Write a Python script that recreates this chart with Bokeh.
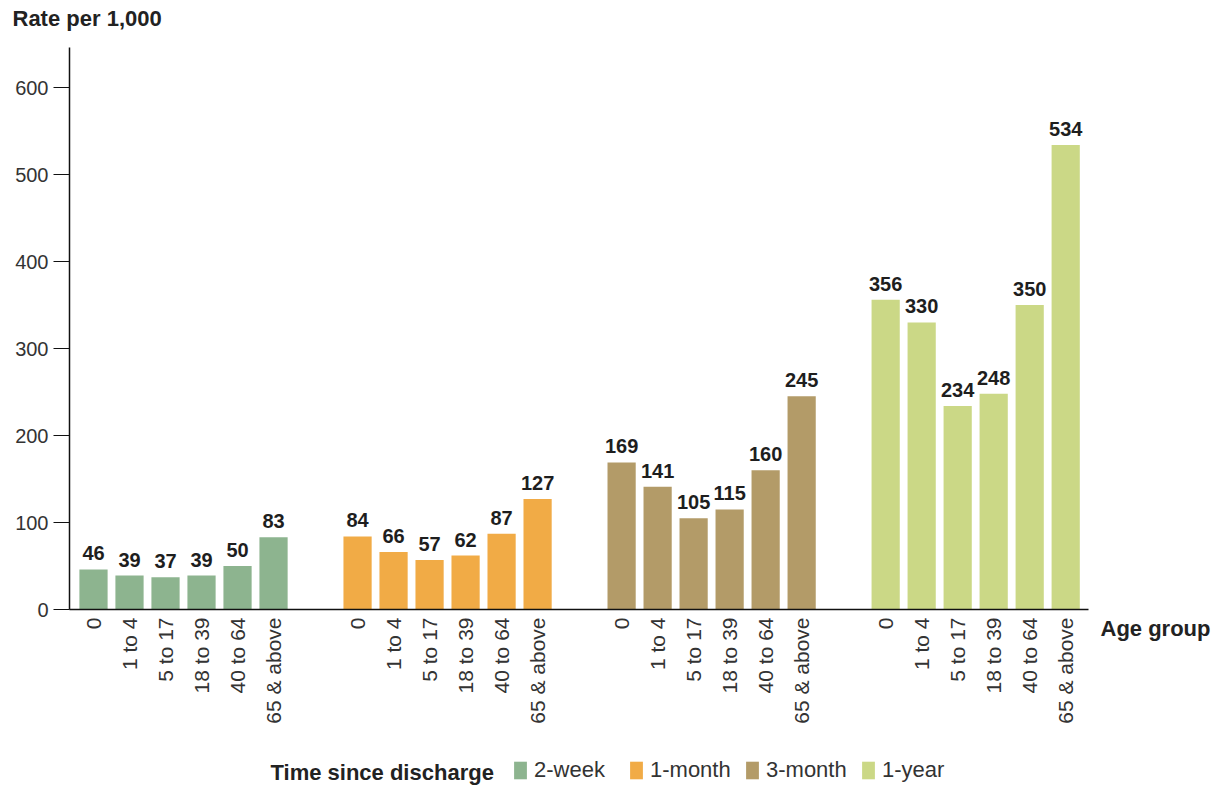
import math
from bokeh.plotting import figure
from bokeh.models import FixedTicker, Legend, LegendItem, ColumnDataSource, Label
from bokeh.core.properties import value
from bokeh.embed import file_html
from bokeh.resources import INLINE

ages = ["0", "1 to 4", "5 to 17", "18 to 39", "40 to 64", "65 & above"]
periods = ["2-week", "1-month", "3-month", "1-year"]
rates_2week = [46, 39, 37, 39, 50, 83]
rates_1month = [84, 66, 57, 62, 87, 127]
rates_3month = [169, 141, 105, 115, 160, 245]
rates_1year = [356, 330, 234, 248, 350, 534]
series = [rates_2week, rates_1month, rates_3month, rates_1year]
colors = ["#8db48f", "#f1ab46", "#b39b68", "#cbd886"]
y_ticks = [0, 100, 200, 300, 400, 500, 600]
y_title = "Rate per 1,000"
x_title = "Age group"
legend_title = "Time since discharge"

W, H = 1225, 790
# plot area (axes box) in pixels
L, R, T, B = 69, 1088, 47, 609
X0, X1 = -2.0, 82.9      # data extent of axes box
Y0, Y1 = 0.0, 646.0
sx = (R - L) / (X1 - X0)
sy = (B - T) / (Y1 - Y0)

SLOT = 3
GROUP = 22
BAR_W = 2.35
FONT = "Liberation Sans"

p = figure(width=W, height=H, output_backend="svg", toolbar_location=None,
           x_range=(X0 - L / sx, X1 + (W - R) / sx),
           y_range=(Y0 - (H - B) / sy, Y1 + T / sy),
           min_border=0)
p.outline_line_color = None
p.xgrid.visible = False
p.ygrid.visible = False

ticks = []
overrides = {}
renderers = []
for g, (vals, col) in enumerate(zip(series, colors)):
    xs = [g * GROUP + i * SLOT for i in range(len(ages))]
    ticks += xs
    for x, a in zip(xs, ages):
        overrides[x] = a
    src = ColumnDataSource(dict(x=xs, top=vals, lab=[str(v) for v in vals]))
    r = p.vbar(x="x", top="top", width=BAR_W, source=src, fill_color=col, line_color=None)
    renderers.append(r)
    p.text(x="x", y="top", text="lab", source=src, text_align="center", text_baseline="bottom",
           y_offset=-9, text_font=value(FONT), text_font_style="bold",
           text_font_size="20px", text_color="#1e1e1e")

# y axis
ya = p.yaxis[0]
ya.fixed_location = X0
ya.bounds = (Y0, Y1)
ya.ticker = FixedTicker(ticks=y_ticks)
ya.axis_line_color = "#111111"
ya.axis_line_width = 1.5
ya.major_tick_in = 0
ya.major_tick_out = 16
ya.major_tick_line_color = "#111111"
ya.minor_tick_line_color = None
ya.major_label_text_font = FONT
ya.major_label_text_font_size = "20px"
ya.major_label_text_color = "#333333"
ya.major_label_standoff = 5

# x axis
xa = p.xaxis[0]
xa.fixed_location = Y0
xa.bounds = (X0, X1)
xa.ticker = FixedTicker(ticks=ticks)
xa.major_label_overrides = overrides
xa.major_label_orientation = math.pi / 2
xa.axis_line_color = "#111111"
xa.axis_line_width = 1.5
xa.major_tick_in = 0
xa.major_tick_out = 0
xa.minor_tick_line_color = None
xa.major_label_text_font = FONT
xa.major_label_text_font_size = "21px"
xa.major_label_text_color = "#333333"
xa.major_label_standoff = 8

lab_style = dict(x_units="screen", y_units="screen", text_font=FONT, text_font_style="bold",
                 text_font_size="22px", text_color="#222222", text_baseline="middle")
p.add_layout(Label(x=12, y=H - 18, text=y_title, **lab_style))
p.add_layout(Label(x=1100, y=H - 628, text=x_title, **lab_style))
p.add_layout(Label(x=270, y=H - 772, text=legend_title, **lab_style))

legend = Legend(items=[LegendItem(label=lab, renderers=[r]) for lab, r in zip(periods, renderers)],
                orientation="horizontal", location=(512, H - 22 - 761),
                padding=0, spacing=0, margin=0,
                glyph_width=16, glyph_height=22, label_width=94, label_standoff=6, label_height=22,
                label_text_font=FONT, label_text_font_size="22px", label_text_color="#333333",
                label_text_baseline="middle",
                border_line_color=None, background_fill_alpha=0)
p.add_layout(legend, "center")

open("out.html", "w").write(file_html(p, INLINE))
